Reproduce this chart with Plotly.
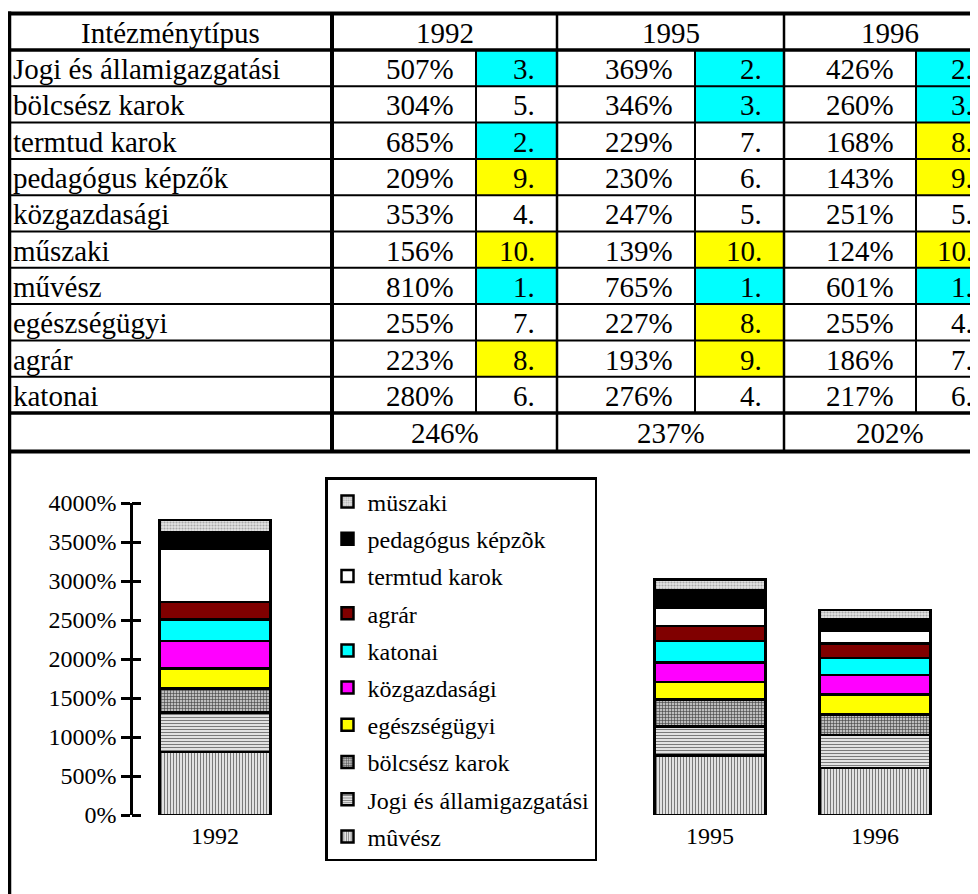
import plotly.graph_objects as go

# ---------------- data ----------------
institutions = ["Jogi és államigazgatási", "bölcsész karok", "termtud karok",
                "pedagógus képzők", "közgazdasági", "műszaki", "művész",
                "egészségügyi", "agrár", "katonai"]
pct_1992 = [507, 304, 685, 209, 353, 156, 810, 255, 223, 280]
rank_1992 = [3, 5, 2, 9, 4, 10, 1, 7, 8, 6]
pct_1995 = [369, 346, 229, 230, 247, 139, 765, 227, 193, 276]
rank_1995 = [2, 3, 7, 6, 5, 10, 1, 8, 9, 4]
pct_1996 = [426, 260, 168, 143, 251, 124, 601, 255, 186, 217]
rank_1996 = [2, 3, 8, 9, 5, 10, 1, 4, 7, 6]
averages = [246, 237, 202]
years = ["1992", "1995", "1996"]
header_first = "Intézménytípus"

# chart: stacking order (bottom -> top) as indices into institutions, with chart labels
stack_order = [6, 0, 1, 7, 4, 9, 8, 2, 3, 5]
chart_names = {6: "mûvész", 0: "Jogi és államigazgatási", 1: "bölcsész karok",
               7: "egészségügyi", 4: "közgazdasági", 9: "katonai", 8: "agrár",
               2: "termtud karok", 3: "pedagógus képzõk", 5: "müszaki"}
y_ticks = [0, 500, 1000, 1500, 2000, 2500, 3000, 3500, 4000]
y_ticktext = [f"{v}%" for v in y_ticks]

# ---------------- styles ----------------
FONT = "Liberation Serif, Times New Roman, serif"
OFF = 8                      # page body margin of the html page
W, H = 978 - OFF, 894 - OFF  # figure size so that it fits the window
styles = {
    6: dict(color="#d8d8d8", pattern=dict(shape="|", bgcolor="#e2e2e2", fgcolor="#7a7a7a", size=3, solidity=0.35)),
    0: dict(color="#d8d8d8", pattern=dict(shape="-", bgcolor="#e2e2e2", fgcolor="#7a7a7a", size=3, solidity=0.35)),
    1: dict(color="#909090", pattern=dict(shape="+", bgcolor="#bdbdbd", fgcolor="#3c3c3c", size=3, solidity=0.35)),
    7: dict(color="#ffff00"),
    4: dict(color="#ff00ff"),
    9: dict(color="#00ffff"),
    8: dict(color="#800000"),
    2: dict(color="#ffffff"),
    3: dict(color="#000000"),
    5: dict(color="#dcdcdc", pattern=dict(shape=".", bgcolor="#e4e4e4", fgcolor="#a8a8a8", size=3, solidity=0.4)),
}

def fx(p):   # page pixel x -> paper fraction
    return (p - OFF) / W

def fy(p):   # page pixel y (from top) -> paper fraction
    return 1 - (p - OFF) / H

fig = go.Figure()

all_pct = [pct_1992, pct_1995, pct_1996]
all_rank = [rank_1992, rank_1995, rank_1996]

n = len(stack_order)
for pos, idx in enumerate(stack_order):
    st = styles[idx]
    marker = dict(color=st["color"], line=dict(color="black", width=2.5))
    if "pattern" in st:
        marker["pattern"] = dict(fillmode="replace", **st["pattern"])
    fig.add_trace(go.Bar(
        x=years, y=[p[idx] for p in all_pct], name=chart_names[idx],
        legendgroup=str(idx), legendrank=n - pos, marker=marker, width=0.67,
        xaxis="x", yaxis="y"))

# helper traces so that the table axes and the inner tick axis exist
fig.add_trace(go.Scatter(x=[OFF + 1], y=[OFF + 1], mode="markers", marker=dict(opacity=0),
                         showlegend=False, hoverinfo="skip", xaxis="x2", yaxis="y2"))
fig.add_trace(go.Scatter(x=[0], y=[0], mode="markers", marker=dict(opacity=0),
                         showlegend=False, hoverinfo="skip", xaxis="x3", yaxis="y4"))

# ---------------- table (page-pixel axis x2/y2) ----------------
col_edges = [9, 332, 476, 557, 695, 784, 916, 995]
top_y = 13.5
header_bottom = 50
row_h = 36.3
data_top = header_bottom
data_bottom = data_top + row_h * len(institutions)
total_bottom = data_bottom + 38.5

shapes = []
annotations = []

def rowc(i):
    return data_top + row_h * (i + 0.5)

for k in range(3):
    l, r = col_edges[2 + 2 * k], col_edges[3 + 2 * k]
    for i, rk in enumerate(all_rank[k]):
        fill = None
        if rk <= 3:
            fill = "#00ffff"
        elif rk >= 8:
            fill = "#ffff00"
        if fill:
            shapes.append(dict(type="rect", xref="x2", yref="y2",
                               x0=l, x1=r, y0=data_top + row_h * i, y1=data_top + row_h * (i + 1),
                               fillcolor=fill, line=dict(width=0)))

def hline(y, w, x0=6, x1=1000):
    shapes.append(dict(type="line", xref="x2", yref="y2", x0=x0, x1=x1, y0=y, y1=y,
                       line=dict(color="black", width=w)))

def vline(x, y0, y1, w):
    shapes.append(dict(type="line", xref="x2", yref="y2", x0=x, x1=x, y0=y0, y1=y1,
                       line=dict(color="black", width=w)))

hline(top_y, 4)
hline(header_bottom, 3.5)
for i in range(1, len(institutions)):
    hline(data_top + row_h * i, 2)
hline(data_bottom, 3.5)
hline(total_bottom, 4)

vline(col_edges[0], top_y - 2, 900, 4.5)
vline(col_edges[1], top_y, total_bottom, 4)
for c in (2, 4, 6):
    vline(col_edges[c], header_bottom, data_bottom, 2)
for c in (3, 5):
    vline(col_edges[c], top_y, total_bottom, 2.5)

tfont = dict(family=FONT, size=29, color="black")

def txt(x, y, s, anchor):
    annotations.append(dict(xref="x2", yref="y2", x=x, y=y, text=s, showarrow=False,
                            xanchor=anchor, yanchor="middle", font=tfont))

hc = (top_y + header_bottom) / 2 + 1
txt((col_edges[0] + col_edges[1]) / 2, hc, header_first, "center")
for k, yr in enumerate(years):
    txt((col_edges[1 + 2 * k] + col_edges[3 + 2 * k]) / 2, hc, yr, "center")

for i, name in enumerate(institutions):
    yc = rowc(i) + 1
    txt(11, yc, name, "left")
    for k in range(3):
        txt(col_edges[2 + 2 * k] - 20, yc, f"{all_pct[k][i]}%", "right")
        txt(col_edges[3 + 2 * k] - 20, yc, f"{all_rank[k][i]}.", "right")

tc = (data_bottom + total_bottom) / 2 + 1
for k, av in enumerate(averages):
    txt((col_edges[1 + 2 * k] + col_edges[3 + 2 * k]) / 2, tc, f"{av}%", "center")

# ---------------- layout ----------------
y0_px, y4000_px = 815, 503
x_left_px, x_right_px = 133, 957.5
tick_half = 9
ydom = [fy(y0_px), fy(y4000_px)]
xdom = [fx(x_left_px), fx(x_right_px)]
cat_array = [years[0], " ", "  ", years[1], years[2]]
slot_px = 165
x_range = [(x_left_px - 215) / slot_px, (x_right_px - 215) / slot_px]

fig.update_layout(
    width=W, height=H, autosize=False,
    margin=dict(l=0, r=0, t=0, b=0, pad=0, autoexpand=False),
    paper_bgcolor="white", plot_bgcolor="rgba(0,0,0,0)",
    barmode="stack",
    font=dict(family=FONT, size=24, color="black"),
    xaxis=dict(domain=xdom, type="category", categoryorder="array", categoryarray=cat_array,
               range=x_range, tickvals=years, ticktext=years, showline=False,
               ticks="", showgrid=False, zeroline=False, anchor="y", automargin=False,
               ticklabelstandoff=4,
               tickfont=dict(family=FONT, size=24, color="black")),
    yaxis=dict(domain=ydom, range=[0, 4000], tickmode="array", tickvals=y_ticks,
               ticktext=y_ticktext,
               showline=True, linecolor="black", linewidth=2.5, ticks="outside",
               ticklen=tick_half, tickwidth=2.5, tickcolor="black", showgrid=False,
               zeroline=False, anchor="x", automargin=False,
               tickfont=dict(family=FONT, size=24, color="black")),
    # inner half of the crossing tick marks
    xaxis3=dict(domain=[fx(x_left_px + tick_half), fx(x_left_px + tick_half + 20)],
                range=[0, 1], visible=False, anchor="y4"),
    yaxis4=dict(domain=ydom, range=[0, 4000], tickmode="array", tickvals=y_ticks,
                ticks="outside", ticklen=tick_half, tickwidth=2.5, tickcolor="black",
                showticklabels=False, showline=False, showgrid=False, zeroline=False,
                anchor="x3", automargin=False),
    xaxis2=dict(domain=[0, 1], range=[OFF, OFF + W], visible=False, anchor="y2"),
    yaxis2=dict(domain=[0, 1], range=[OFF + H, OFF], visible=False, anchor="x2"),
    legend=dict(x=fx(325), y=fy(477), xanchor="left", yanchor="top",
                bgcolor="white", bordercolor="black", borderwidth=2.5,
                traceorder="grouped", tracegroupgap=3,
                font=dict(family=FONT, size=24, color="black")),
    shapes=shapes, annotations=annotations, showlegend=True,
)

fig.write_html("out.html")
